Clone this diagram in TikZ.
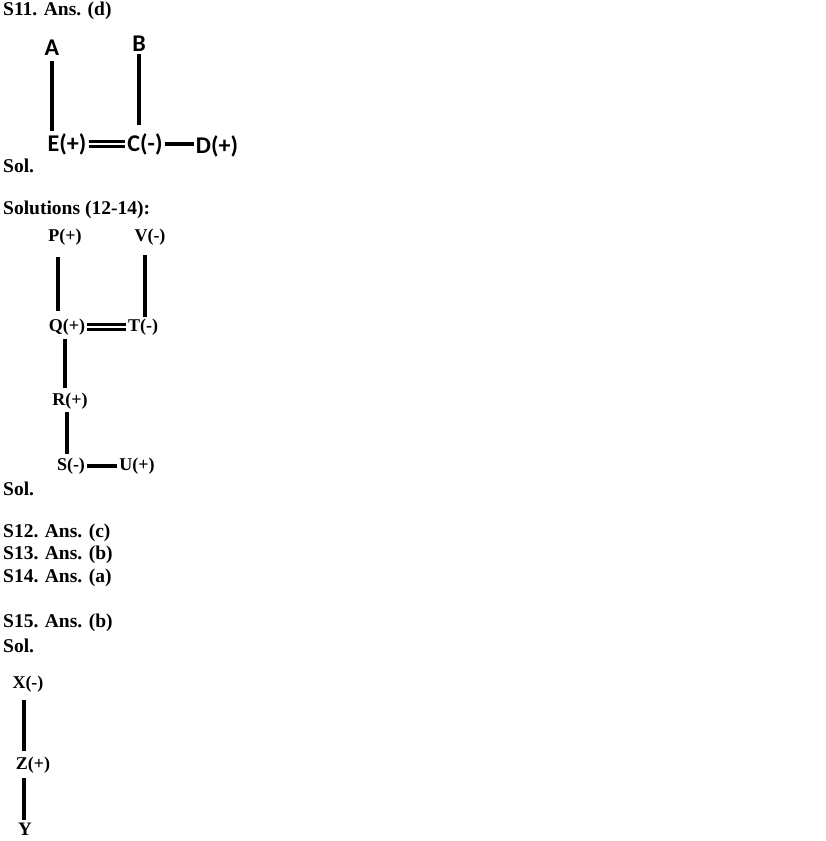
\documentclass[tikz,border=0pt]{standalone}
\usepackage{fontspec}
\setmainfont{Liberation Serif}
\newfontfamily\sansbold{Carlito}
\tikzset{
  head/.style={anchor=west,inner sep=0pt,font=\fontsize{19.5}{22}\selectfont\bfseries},
  labA/.style={inner sep=2pt,font=\fontsize{24}{27}\sansbold\bfseries},
  labB/.style={inner sep=2pt,font=\fontsize{18}{21}\selectfont\bfseries},
  bar/.style={line width=3.4pt},
  dbar/.style={line width=3pt,double distance=2.6pt},
}
\begin{document}
\begin{tikzpicture}[x=1pt,y=-1pt]
\useasboundingbox (0,0) rectangle (826,841);

% answer lines
\node[head] (s11) at (3,11) {S11. Ans. (d)};
\node[head] (sol1) at (3,166) {Sol.};
\node[head] (sols) at (3,210) {Solutions (12-14):};
\node[head] (sol2) at (3,489) {Sol.};
\node[head] (s12) at (3,533) {S12. Ans. (c)};
\node[head] (s13) at (3,555) {S13. Ans. (b)};
\node[head] (s14) at (3,578) {S14. Ans. (a)};
\node[head] (s15) at (3,623) {S15. Ans. (b)};
\node[head] (sol3) at (3,646) {Sol.};

% S11 diagram
\node[labA] (A) at (52,48) {A};
\node[labA] (B) at (139,44) {B};
\node[labA] (E) at (67,144) {E(+)};
\node[labA] (C) at (145,144) {C(-)};
\node[labA] (D) at (217,146) {D(+)};
\draw[bar,shorten <=3pt] (A) -- (A |- E.north);
\draw[bar,shorten >=6pt] (B) -- (B |- C.north);
\draw[dbar] (E) -- (C);
\draw[bar] (C) -- (C -| D.west);

% S12-14 diagram
\node[labB] (P) at (65,237) {P(+)};
\node[labB] (V) at (150,237) {V(-)};
\node[labB] (Q) at (67,327) {Q(+)};
\node[labB] (T) at (143,327) {T(-)};
\node[labB] (R) at (70,401) {R(+)};
\node[labB] (S) at (71,466) {S(-)};
\node[labB] (U) at (137,466) {U(+)};
\draw[bar,shorten <=10pt,shorten >=6pt] ([xshift=-7pt]P.south) -- ([xshift=-7pt]P.south |- Q.north);
\draw[bar,shorten <=8pt] ([xshift=-5pt]V.south) -- ([xshift=-5pt]V.south |- T.north);
\draw[dbar] (Q) -- (T);
\draw[bar,shorten <=2pt,shorten >=3pt] ([xshift=-2pt]Q.south) -- ([xshift=-2pt]Q.south |- R.north);
\draw[bar,shorten <=1pt,shorten >=2pt] ([xshift=-3pt]R.south) -- ([xshift=-3pt]R.south |- S.north);
\draw[bar] (S) -- (U);

% S15 diagram
\node[labB] (X) at (28,684) {X(-)};
\node[labB] (Z) at (33,765) {Z(+)};
\node[labB,font=\fontsize{19}{22}\selectfont\bfseries] (Y) at (25,829) {Y};
\draw[bar,shorten <=6pt,shorten >=4pt] ([xshift=-4pt]X.south) -- ([xshift=-4pt]X.south |- Z.north);
\draw[bar,shorten <=3pt,shorten >=1pt] ([xshift=-9pt]Z.south) -- ([xshift=-9pt]Z.south |- Y.north);
\end{tikzpicture}
\end{document}
